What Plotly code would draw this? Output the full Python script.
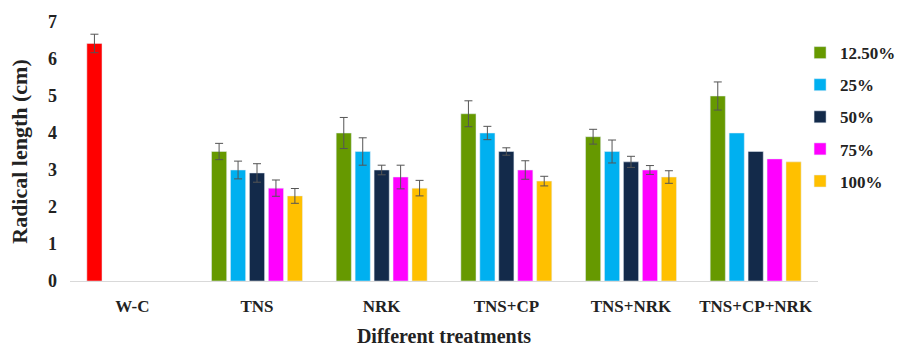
import plotly.graph_objects as go

categories = ["W-C", "TNS", "NRK", "TNS+CP", "TNS+NRK", "TNS+CP+NRK"]
series_names = ["12.50%", "25%", "50%", "75%", "100%"]

control_value = [6.42]
control_err = [0.25]

v125 = [None, 3.5, 4.0, 4.52, 3.9, 5.0]
e125 = [0, 0.22, 0.42, 0.35, 0.2, 0.38]
v25 = [None, 3.0, 3.5, 4.0, 3.5, 4.0]
e25 = [0, 0.24, 0.37, 0.18, 0.31, 0]
v50 = [None, 2.92, 3.0, 3.5, 3.22, 3.5]
e50 = [0, 0.25, 0.13, 0.1, 0.15, 0]
v75 = [None, 2.51, 2.81, 3.0, 3.0, 3.3]
e75 = [0, 0.22, 0.32, 0.25, 0.12, 0]
v100 = [None, 2.3, 2.51, 2.7, 2.81, 3.22]
e100 = [0, 0.2, 0.21, 0.13, 0.17, 0]

colors = ["#669900", "#00B0F0", "#132A4A", "#FF00FF", "#FFC000"]
values = [v125, v25, v50, v75, v100]
errors = [e125, e25, e50, e75, e100]

FONT = "'Liberation Serif', 'Times New Roman', Times, serif"
err_style = dict(type="data", color="#555555", thickness=1, width=4)

fig = go.Figure()
fig.add_trace(go.Bar(
    x=[categories[0]], y=control_value, name="W-C",
    marker_color="#FF0000", offsetgroup="g0", showlegend=False,
    error_y=dict(array=control_err, **err_style),
))
for i, (nm, vals, errs, col) in enumerate(zip(series_names, values, errors, colors)):
    # points with an error bar
    xs = [c for c, v, e in zip(categories, vals, errs) if v is not None and e > 0]
    ys = [v for v, e in zip(vals, errs) if v is not None and e > 0]
    es = [e for v, e in zip(vals, errs) if v is not None and e > 0]
    fig.add_trace(go.Bar(
        x=xs, y=ys, name=nm, marker_color=col,
        offsetgroup=f"g{i}", legendgroup=nm,
        error_y=dict(array=es, **err_style),
    ))
    # points without an error bar
    xn = [c for c, v, e in zip(categories, vals, errs) if v is not None and e == 0]
    yn = [v for v, e in zip(vals, errs) if v is not None and e == 0]
    if xn:
        fig.add_trace(go.Bar(
            x=xn, y=yn, name=nm, marker_color=col,
            offsetgroup=f"g{i}", legendgroup=nm, showlegend=False,
        ))

fig.update_layout(
    width=902, height=347,
    margin=dict(l=70, r=84, t=22, b=66, autoexpand=False),
    paper_bgcolor="white", plot_bgcolor="white",
    barmode="group", bargap=0.24, bargroupgap=0.2,
    font=dict(family=FONT, color="#222222", size=17, weight="bold"),
    showlegend=True,
    legend=dict(xref="container", yref="container", x=0.887, y=0.899,
                xanchor="left", yanchor="top",
                font=dict(family=FONT, size=17, weight="bold", color="#222222"),
                tracegroupgap=7, bgcolor="rgba(0,0,0,0)"),
    xaxis=dict(
        automargin=False,
        categoryorder="array", categoryarray=categories,
        showline=True, linecolor="#D9D9D9", linewidth=1,
        ticks="", ticklabelstandoff=10,
        tickfont=dict(family=FONT, size=17, weight="bold"),
        title=dict(text="Different treatments", font=dict(family=FONT, size=20, weight="bold"), standoff=18),
    ),
    yaxis=dict(
        automargin=False,
        range=[0, 7], dtick=1, showgrid=False, zeroline=False, showline=False,
        tickfont=dict(family=FONT, size=18, weight="bold"), ticklen=0,
        ticklabelstandoff=12,
        title=dict(text="Radical length (cm)", font=dict(family=FONT, size=22, weight="bold"), standoff=14),
    ),
)

fig.write_html("out.html")
